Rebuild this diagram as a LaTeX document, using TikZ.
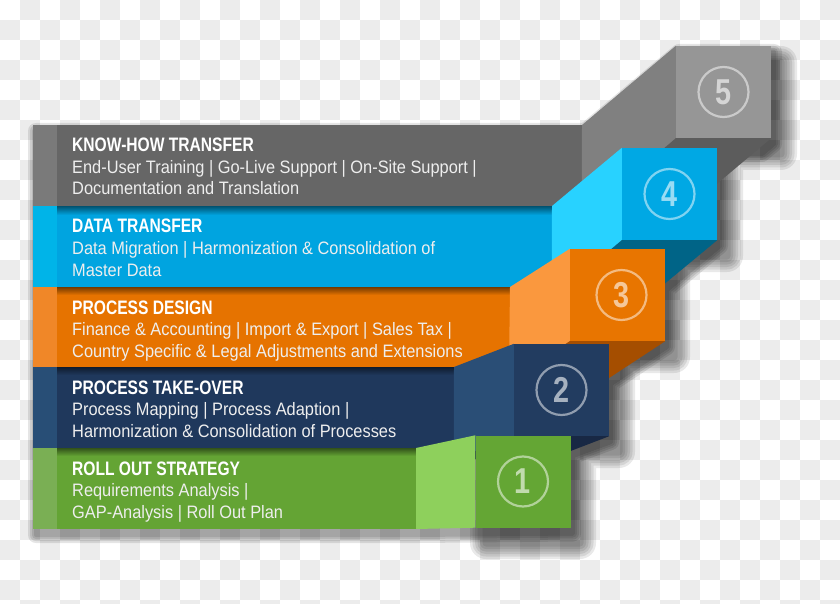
\documentclass[tikz,border=0pt]{standalone}
\usepackage{fontspec}
\newfontfamily\headfont{Liberation Sans}[FakeStretch=0.8]
\newfontfamily\descfont{Liberation Sans}[FakeStretch=0.91]
\usetikzlibrary{positioning}

\definecolor{checkgrey}{RGB}{236,236,236}
\definecolor{desctext}{RGB}{238,238,238}
\definecolor{greyband}{RGB}{102,102,102}
\definecolor{greystrip}{RGB}{122,122,122}
\definecolor{greyside}{RGB}{128,128,128}
\definecolor{greyfront}{RGB}{150,150,150}
\definecolor{greybottom}{RGB}{92,92,92}
\definecolor{blueband}{RGB}{0,164,224}
\definecolor{bluestrip}{RGB}{0,180,232}
\definecolor{blueside}{RGB}{40,210,255}
\definecolor{bluefront}{RGB}{0,168,228}
\definecolor{bluebottom}{RGB}{0,100,135}
\definecolor{orangeband}{RGB}{230,115,0}
\definecolor{orangestrip}{RGB}{240,135,40}
\definecolor{orangeside}{RGB}{250,152,62}
\definecolor{orangefront}{RGB}{232,117,0}
\definecolor{orangebottom}{RGB}{165,78,0}
\definecolor{navyband}{RGB}{31,56,92}
\definecolor{navystrip}{RGB}{40,78,118}
\definecolor{navyside}{RGB}{42,78,118}
\definecolor{navyfront}{RGB}{34,60,96}
\definecolor{navybottom}{RGB}{24,40,68}
\definecolor{greenband}{RGB}{100,164,52}
\definecolor{greenstrip}{RGB}{122,175,84}
\definecolor{greenside}{RGB}{142,208,92}
\definecolor{greenfront}{RGB}{100,166,52}

\begin{document}
\begin{tikzpicture}[x=1pt,y=-1pt]
\tikzset{stepbox/.style={rectangle,minimum width=95pt,minimum height=92pt,inner sep=0pt}}
\tikzset{stepnum/.style={circle,draw=white,draw opacity=0.5,text=white,text opacity=0.6,line width=2.2pt,minimum size=50pt,inner sep=0pt,font=\headfont\bfseries\fontsize{36}{36}\selectfont}}
\tikzset{head/.style={anchor=base west,inner sep=0pt,text=white,font=\headfont\bfseries\fontsize{19.5}{20}\selectfont}}
\tikzset{desc/.style={anchor=base west,inner sep=0pt,text=desctext,font=\descfont\fontsize{18}{20}\selectfont}}
\useasboundingbox (0,0) rectangle (840,604);
% checkerboard
\fill[white] (0,0) rectangle (840,604);
\foreach \x in {20,60,...,820}
  \foreach \y in {0,40,...,600}
    \fill[checkgrey] (\x,\y) rectangle ++(20,20);
\foreach \x in {0,40,...,800}
  \foreach \y in {20,60,...,580}
    \fill[checkgrey] (\x,\y) rectangle ++(20,20);
% soft shadow of the bands
\foreach \w in {16,12,8,4} {
  \begin{scope}[transparency group,opacity=0.1]
  \filldraw[black,line width=\w pt,line join=round,shift={(3,6)}]
    (33,125) -- (582,125) -- (676,46) -- (771,46) -- (771,138) -- (759,148) -- (717,148) -- (717,240)
    -- (664,284) -- (664,341) -- (608,378) -- (608,436) -- (570,450) -- (570,527.5) -- (416,529) -- (33,529) -- cycle;
  \end{scope}
}
% deeper shadow of the boxes
\foreach \w in {32,27,...,7} {
  \begin{scope}[transparency group,opacity=0.085]
  \filldraw[black,line width=\w pt,line join=round,shift={(10,16)}]
    (676,46) rectangle (771,138) (622,148) rectangle (717,240) (571,249) rectangle (664,341)
    (514,344) rectangle (609,436) (476,436) rectangle (570,527);
  \end{scope}
}

% step 5
\fill[greyband] (33,125) rectangle (582,206);
\fill[greystrip] (33,125) rectangle (57,206);
\node[stepbox,fill=greyfront] (box5) at (723.5,92) {};
\fill[greyside] (582,125) -- (box5.north west) -- (box5.south west) -- ++(-94,79) -- cycle;
\fill[greybottom] (box5.south west) -- (box5.south east) -- ++(-94,79) -- ++(-95,0) -- cycle;
\node[stepnum] (num5) at (box5.center) {5};
\node[head] (head5) at (72,152) {KNOW-HOW TRANSFER};
\node[desc] (desc5a) at ([yshift=-21.5pt]head5.base west) {End-User Training | Go-Live Support | On-Site Support |};
\node[desc] (desc5b) at ([yshift=-21.5pt]desc5a.base west) {Documentation and Translation};

% step 4
\fill[blueband] (33,206) rectangle (552,287);
\fill[bluestrip] (33,206) rectangle (57,287);
\shade[top color=blueband!50!black,bottom color=blueband] (57,206) rectangle (552,215);
\node[stepbox,fill=bluefront] (box4) at (669.5,194) {};
\fill[blueside] (552,206) -- (box4.north west) -- (box4.south west) -- ++(-70,58) -- cycle;
\fill[bluebottom] (box4.south west) -- (box4.south east) -- ++(-70,58) -- ++(-95,0) -- cycle;
\node[stepnum] (num4) at (box4.center) {4};
\node[head] (head4) at (72,233) {DATA TRANSFER};
\node[desc] (desc4a) at ([yshift=-21.5pt]head4.base west) {Data Migration | Harmonization \& Consolidation of};
\node[desc] (desc4b) at ([yshift=-21.5pt]desc4a.base west) {Master Data};

% step 3
\fill[orangeband] (33,287) rectangle (510,367);
\fill[orangestrip] (33,287) rectangle (57,367);
\shade[top color=orangeband!50!black,bottom color=orangeband] (57,287) rectangle (510,295);
\node[stepbox,fill=orangefront] (box3) at (617.5,295) {};
\fill[orangeside] (510,287) -- (box3.north west) -- (box3.south west) -- ++(-61,40) -- cycle;
\fill[orangebottom] (box3.south west) -- (box3.south east) -- ++(-61,40) -- ++(-95,0) -- cycle;
\node[stepnum] (num3) at ([xshift=4pt]box3.center) {3};
\node[head] (head3) at (72,314) {PROCESS DESIGN};
\node[desc] (desc3a) at ([yshift=-21.5pt]head3.base west) {Finance \& Accounting | Import \& Export | Sales Tax |};
\node[desc] (desc3b) at ([yshift=-21.5pt]desc3a.base west) {Country Specific \& Legal Adjustments and Extensions};

% step 2
\fill[navyband] (33,367) rectangle (454,448);
\fill[navystrip] (33,367) rectangle (57,448);
\shade[top color=navyband!50!black,bottom color=navyband] (57,367) rectangle (454,375);
\node[stepbox,fill=navyfront] (box2) at (561.5,390) {};
\fill[navyside] (454,367) -- (box2.north west) -- (box2.south west) -- ++(-60,23) -- cycle;
\fill[navybottom] (box2.south west) -- (box2.south east) -- ++(-60,23) -- ++(-95,0) -- cycle;
\node[stepnum] (num2) at (box2.center) {2};
\node[head] (head2) at (72,394) {PROCESS TAKE-OVER};
\node[desc] (desc2a) at ([yshift=-21.5pt]head2.base west) {Process Mapping | Process Adaption |};
\node[desc] (desc2b) at ([yshift=-21.5pt]desc2a.base west) {Harmonization \& Consolidation of Processes};

% step 1
\fill[greenband] (33,448) rectangle (416,529);
\fill[greenstrip] (33,448) rectangle (57,529);
\shade[top color=greenband!50!black,bottom color=greenband] (57,448) rectangle (416,456);
\node[stepbox,fill=greenfront] (box1) at (523,481.5) {};
\fill[greenside] (416,448) -- (box1.north west) -- (box1.south west) -- (416,529) -- cycle;
\node[stepnum] (num1) at (box1.center) {1};
\node[head] (head1) at (72,475) {ROLL OUT STRATEGY};
\node[desc] (desc1a) at ([yshift=-21.5pt]head1.base west) {Requirements Analysis |};
\node[desc] (desc1b) at ([yshift=-21.5pt]desc1a.base west) {GAP-Analysis | Roll Out Plan};
\end{tikzpicture}
\end{document}
